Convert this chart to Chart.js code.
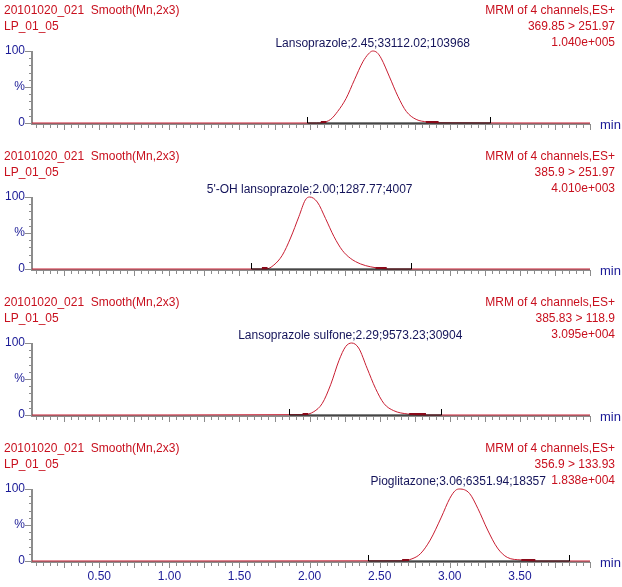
<!DOCTYPE html>
<html>
<head>
<meta charset="utf-8">
<script src="https://cdn.jsdelivr.net/npm/chart.js@4"></script>
<style>
body{margin:0;background:#fff;width:622px;height:587px;position:relative;overflow:hidden;font-family:"Liberation Sans",Arial,sans-serif;font-size:12px;}
.panel{position:absolute;left:0;width:622px;}
.tizq{position:absolute;left:4px;top:2px;color:#c8101e;line-height:16px;white-space:pre;}
.tder{position:absolute;right:7px;top:2px;color:#c8101e;line-height:16px;text-align:right;white-space:pre;}
canvas{position:absolute;left:0;top:0;}
</style>
</head>
<body>
<div id="contenedor"></div>
<script>
var tiempo1=[0.02,2.05,2.09,2.15,2.20,2.26,2.32,2.38,2.42,2.45,2.48,2.51,2.57,2.63,2.69,2.76,2.84,2.91,4.00];
var inten1 =[0,0,0.5,5,16,34,60,85,96,100,98,90,64,37,16,5,1.5,0.3,0];
var tiempo2=[0.02,1.65,1.69,1.745,1.805,1.864,1.924,1.97,2.00,2.055,2.114,2.174,2.233,2.29,2.364,2.436,2.52,2.56,4.00];
var inten2 =[0,0,0,5.5,19,43,73,96,100,93,70,45,26,15,7,3,0.5,0,0];
var tiempo3=[0.02,1.96,2.03,2.09,2.15,2.21,2.257,2.30,2.35,2.41,2.47,2.53,2.60,2.70,2.82,4.00];
var inten3 =[0,0.5,4.6,16,42,76,95,100,93,65,37,16,6,1.4,0,0];
var tiempo4=[0.02,2.66,2.73,2.79,2.86,2.94,3.00,3.04,3.07,3.14,3.20,3.27,3.34,3.41,3.51,3.60,4.00];
var inten4 =[0,0.3,3,10,29,61,87,98,100,94,73,43,18,5,1.4,0,0];

var textoIzq=["20101020_021  Smooth(Mn,2x3)","LP_01_05"];
var canales=["369.85 > 251.97","385.9 > 251.97","385.83 > 118.9","356.9 > 133.93"];
var escalas=["1.040e+005","4.010e+003","3.095e+004","1.838e+004"];
var picos=["Lansoprazole;2.45;33112.02;103968","5'-OH lansoprazole;2.00;1287.77;4007","Lansoprazole sulfone;2.29;9573.23;30904","Pioglitazone;3.06;6351.94;18357"];
var tPico=[2.45,2.00,2.29,3.06];
var inicio=[1.98,1.58,1.85,2.42];
var fin=[3.29,2.72,2.94,3.85];
var colaIni=[[2.08,2.12],[1.66,1.70],[1.95,1.99],[2.66,2.71]];
var colaFin=[[2.83,2.92],[2.47,2.55],[2.71,2.83],[3.51,3.61]];
var ticksX=[0.50,1.00,1.50,2.00,2.50,3.00,3.50];
var tiempos=[tiempo1,tiempo2,tiempo3,tiempo4];
var intens=[inten1,inten2,inten3,inten4];

var rojo="#c81e32";
var azul="#1a1a96";
var fuente='12px "Liberation Sans", Arial, sans-serif';

var ejes={
	id:"ejes",
	beforeDatasetsDraw:function(chart){
		var ctx=chart.ctx, x=chart.scales.x, y=chart.scales.y, a=chart.chartArea;
		ctx.save();
		ctx.strokeStyle="#8c8c8c";
		ctx.lineWidth=2;
		ctx.beginPath();
		ctx.moveTo(a.left,y.getPixelForValue(100));
		ctx.lineTo(a.left,a.bottom+2);
		ctx.moveTo(a.left,a.bottom+1);
		ctx.lineTo(a.right,a.bottom+1);
		ctx.stroke();
		ctx.lineWidth=1;
		ctx.beginPath();
		for(var v=0;v<=100;v+=10){
			var py=Math.round(y.getPixelForValue(v))+0.5;
			var l=(v%50===0)?7:3;
			ctx.moveTo(a.left-l,py);ctx.lineTo(a.left,py);
		}
		for(var i=1;i<=80;i++){
			var t=i*0.05;
			var px=Math.round(x.getPixelForValue(t))+0.5;
			var l2=(i%5===0)?6:4;
			ctx.moveTo(px,a.bottom+1);ctx.lineTo(px,a.bottom+1+l2);
		}
		ctx.stroke();
		ctx.fillStyle=azul;
		ctx.font=fuente;
		ctx.textAlign="right";
		ctx.textBaseline="middle";
		ctx.fillText("100",a.left-7,y.getPixelForValue(100));
		ctx.fillText("%",a.left-7,y.getPixelForValue(50));
		ctx.fillText("0",a.left-7,y.getPixelForValue(0));
		if(chart.options.plugins.ejes.ultimo){
			ctx.textAlign="center";
			ticksX.forEach(function(t){
				ctx.fillText(t.toFixed(2),x.getPixelForValue(t),a.bottom+16);
			});
		}
		ctx.restore();
	},
	afterDatasetsDraw:function(chart){
		var ctx=chart.ctx, x=chart.scales.x, y=chart.scales.y, a=chart.chartArea;
		var n=chart.options.plugins.ejes.panel;
		var y0=y.getPixelForValue(0);
		ctx.save();
		ctx.strokeStyle="#000";
		ctx.lineWidth=1;
		ctx.beginPath();
		var xi=Math.round(x.getPixelForValue(inicio[n]))+0.5;
		var xf=Math.round(x.getPixelForValue(fin[n]))+0.5;
		ctx.moveTo(xi,y0);ctx.lineTo(xf,y0);
		ctx.moveTo(xi,y0);ctx.lineTo(xi,y0-6);
		ctx.moveTo(xf,y0);ctx.lineTo(xf,y0-6);
		ctx.stroke();
		ctx.strokeStyle="#8a0a1a";
		ctx.lineWidth=2;
		ctx.beginPath();
		[colaIni[n],colaFin[n]].forEach(function(c){
			ctx.moveTo(x.getPixelForValue(c[0]),y0-1);
			ctx.lineTo(x.getPixelForValue(c[1]),y0-1);
		});
		ctx.stroke();
		ctx.font=fuente;
		ctx.fillStyle="#14145a";
		ctx.textAlign="center";
		ctx.textBaseline="middle";
		ctx.fillText(picos[n],x.getPixelForValue(tPico[n]),y.getPixelForValue(100)-7);
		ctx.fillStyle=azul;
		ctx.textAlign="left";
		ctx.font='13px "Liberation Sans", Arial, sans-serif';
		ctx.fillText("min",a.right+10,y0+2);
		ctx.restore();
	}
};

function Cromatograma(){
	'use strict';
	var that=this;
	that.crear=function(n){
		var alto=(n===3)?149:146;
		var div=document.createElement("div");
		div.className="panel";
		div.style.top=(n*146)+"px";
		div.style.height=alto+"px";
		div.innerHTML="<canvas id='graf"+n+"' width='622' height='"+alto+"'></canvas>"+
			"<div class='tizq'>"+textoIzq.join("<br>")+"</div>"+
			"<div class='tder'>MRM of 4 channels,ES+<br>"+canales[n].replace(">","&gt;")+"<br>"+escalas[n]+"</div>";
		document.getElementById("contenedor").appendChild(div);
		var puntos=[];
		for(var i=0;i<tiempos[n].length;i++){
			puntos.push({x:tiempos[n][i],y:intens[n][i]});
		}
		new Chart(document.getElementById("graf"+n),{
			type:"line",
			data:{datasets:[{
				data:puntos,
				borderColor:rojo,
				borderWidth:1,
				pointRadius:0,
				cubicInterpolationMode:"monotone",
				clip:false
			}]},
			options:{
				responsive:false,
				animation:false,
				devicePixelRatio:1,
				layout:{padding:{left:32,right:32,top:51,bottom:alto-123}},
				scales:{
					x:{type:"linear",min:0.02,max:4.0,display:false},
					y:{min:0,max:100,display:false}
				},
				plugins:{
					legend:{display:false},
					tooltip:{enabled:false},
					ejes:{panel:n,ultimo:(n===3)}
				}
			},
			plugins:[ejes]
		});
	}
}

var crom=new Cromatograma();
for(var k=0;k<4;k++){
	crom.crear(k);
}
</script>
</body>
</html>
